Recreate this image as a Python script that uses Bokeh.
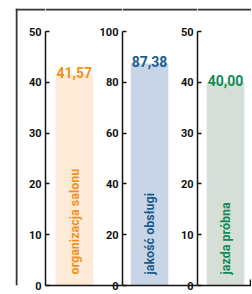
import math
from bokeh.plotting import figure
from bokeh.layouts import row, column
from bokeh.models import Range1d, FixedTicker, Spacer, BoxAnnotation
from bokeh.core.properties import value
from bokeh.embed import file_html
from bokeh.resources import INLINE

# ---- data ----
categories = ["organizacja salonu", "jakość obsługi", "jazda próbna"]
values = [41.57, 87.38, 40.00]
value_labels = ["41,57", "87,38", "40,00"]
axis_max = [50, 100, 50]
axis_ticks = [[0, 10, 20, 30, 40, 50], [0, 20, 40, 60, 80, 100], [0, 10, 20, 30, 40, 50]]

# ---- styles ----
text_colors = ["#f39019", "#1a5b8c", "#128a57"]
bar_colors = ["#fdebd8", "#c8d5e7", "#d5dfd8"]
FONT = "Roboto"
PX_PER_UNIT = 38.0
frame_w = [77, 75, 54]
bar_offset_px = [28.8, 27.0, 28.0]
LEFT = 28
AXIS_PX = 254          # pixel height of the 0..max axis
HEAD_PX = 23           # pixels between frame top line and axis top
BOTTOM = 7
FRAME_H = AXIS_PX + HEAD_PX
FIG_H = FRAME_H + BOTTOM
FRAME_COLOR = "#333333"
PAD_LEFT = 15
PAD_TOP = 8
LINE_PX = 2


def bare_fig(w, h, bg):
    f = figure(width=w, height=h, output_backend="svg", toolbar_location=None,
               title=None, x_axis_type=None, y_axis_type=None,
               min_border=0, min_border_left=0, min_border_right=0,
               min_border_top=0, min_border_bottom=0,
               background_fill_color=bg, border_fill_color=bg,
               outline_line_color=None)
    f.grid.visible = False
    return f


# left part of the frame (left edge + start of the top edge)
left_w = LEFT + LINE_PX
left_fig = bare_fig(left_w, FIG_H, "white")
left_fig.x_range = Range1d(0, left_w)
left_fig.y_range = Range1d(0, FIG_H)
left_fig.add_layout(BoxAnnotation(left=0, right=LINE_PX, fill_color=FRAME_COLOR,
                                  fill_alpha=1.0, line_color=None))
left_fig.add_layout(BoxAnnotation(bottom=FIG_H - LINE_PX, fill_color=FRAME_COLOR,
                                  fill_alpha=1.0, line_color=None))

figs = []
for i in range(3):
    x0 = -bar_offset_px[i] / PX_PER_UNIT
    x1 = x0 + frame_w[i] / PX_PER_UNIT
    units_per_px = axis_max[i] / AXIS_PX
    y_end = axis_max[i] + HEAD_PX * units_per_px
    p = figure(width=LEFT + frame_w[i], height=FIG_H, title=None,
               x_range=Range1d(x0, x1), y_range=Range1d(0, y_end),
               output_backend="svg", toolbar_location=None,
               min_border_left=LEFT, min_border_right=0,
               min_border_top=0, min_border_bottom=BOTTOM,
               background_fill_alpha=0, border_fill_alpha=0,
               outline_line_color=None)
    p.grid.visible = False
    # top edge of the frame
    p.add_layout(BoxAnnotation(bottom=y_end - LINE_PX * units_per_px,
                               fill_color=FRAME_COLOR, fill_alpha=1.0,
                               line_color=None))
    p.vbar(x=[0], top=[values[i]], width=0.99, bottom=0,
           fill_color=bar_colors[i], line_color=None)
    p.text(x=[0], y=[values[i]], text=[value_labels[i]],
           text_align="center", text_baseline="alphabetic", y_offset=-2,
           text_font=value(FONT), text_font_style="bold",
           text_font_size="14px", text_color=text_colors[i])
    p.text(x=[0], y=[0], text=[categories[i]], angle=math.pi / 2,
           text_align="left", text_baseline="middle", y_offset=-11,
           text_font=value(FONT), text_font_style="bold",
           text_font_size="12.5px", text_color=text_colors[i])

    ya = p.yaxis[0]
    ya.ticker = FixedTicker(ticks=axis_ticks[i])
    ya.bounds = (0, axis_max[i])
    ya.major_tick_in = 4
    ya.major_tick_out = 0
    ya.minor_tick_line_color = None
    ya.major_label_standoff = 4
    ya.major_label_text_font = FONT
    ya.major_label_text_font_style = "bold"
    ya.major_label_text_font_size = "11px"
    ya.major_label_text_color = "#111111"
    ya.axis_line_width = 1.5
    ya.axis_line_color = "#111111"
    ya.major_tick_line_width = 1.5
    ya.major_tick_line_color = "#111111"

    xa = p.xaxis[0]
    end_tick = x1 - 0.02
    xa.ticker = FixedTicker(ticks=[end_tick] if i == 2 else [])
    xa.major_label_overrides = {end_tick: ""}
    xa.major_tick_in = 6
    xa.major_tick_out = 0
    xa.minor_tick_line_color = None
    xa.major_label_standoff = 0
    xa.axis_line_width = 1.5
    xa.axis_line_color = "#111111"
    xa.major_tick_line_width = 1.5
    xa.major_tick_line_color = "#111111"
    p.margin = (0, 0, 0, -LEFT)
    figs.append(p)

layout = column(
    Spacer(width=10, height=PAD_TOP),
    row([Spacer(width=PAD_LEFT, height=FIG_H), left_fig] + figs),
)

open("out.html", "w").write(file_html(layout, INLINE))
